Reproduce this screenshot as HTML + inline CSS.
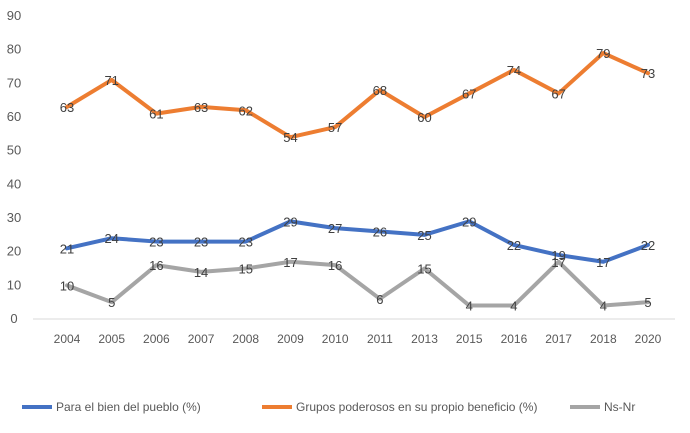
<!DOCTYPE html>
<html><head><meta charset="utf-8"><style>
body{margin:0;background:#fff;font-family:"Liberation Sans",sans-serif}
svg text{font-family:"Liberation Sans",sans-serif}
</style></head><body>
<svg id="c" width="690" height="428"></svg>
<script>
const categories=["2004","2005","2006","2007","2008","2009","2010","2011","2013","2015","2016","2017","2018","2020"];
const bienPueblo=[21,24,23,23,23,29,27,26,25,29,22,19,17,22];
const gruposPoderosos=[63,71,61,63,62,54,57,68,60,67,74,67,79,73];
const nsNr=[10,5,16,14,15,17,16,6,15,4,4,17,4,5];
const yTicks=[0,10,20,30,40,50,60,70,80,90];
const seriesNames=["Para el bien del pueblo (%)","Grupos poderosos en su propio beneficio (%)","Ns-Nr"];
const colors=["#4472C4","#ED7D31","#A5A5A5"];
const svg=document.getElementById('c');
const NS="http://www.w3.org/2000/svg";
const x0=67,x1=648,yb=319,yt=16;
const xs=i=>x0+i*(x1-x0)/(categories.length-1);
const ys=v=>yb-v*(yb-yt)/90;
function mk(t,a){const e=document.createElementNS(NS,t);for(const k in a)e.setAttribute(k,a[k]);svg.appendChild(e);return e;}
const ax=mk('line',{x1:33,x2:675,y1:yb,y2:yb,stroke:'#d9d9d9','stroke-width':1});


yTicks.forEach(v=>{const t=mk('text',{x:14,y:ys(v)+4,'font-size':13,fill:'#595959','text-anchor':'middle'});t.textContent=v;

});
categories.forEach((c,i)=>{const t=mk('text',{x:xs(i),y:343,'font-size':12,fill:'#595959','text-anchor':'middle'});t.textContent=c;

});
[bienPueblo,gruposPoderosos,nsNr].forEach((d,s)=>{
const p=mk('polyline',{points:d.map((v,i)=>xs(i)+','+ys(v)).join(' '),fill:'none',stroke:colors[s],'stroke-width':4,'stroke-linejoin':'round','stroke-linecap':'round'});


d.forEach((v,i)=>{const t=mk('text',{x:xs(i),y:ys(v)+5,'font-size':13,fill:'#404040','text-anchor':'middle'});t.textContent=v;

});
});
const lx=[22,262,570];
seriesNames.forEach((n,s)=>{
const l=mk('line',{x1:lx[s],x2:lx[s]+30,y1:407,y2:407,stroke:colors[s],'stroke-width':4});


const t=mk('text',{x:lx[s]+34,y:411,'font-size':12,fill:'#595959'});t.textContent=n;


});
</script>
</body></html>
